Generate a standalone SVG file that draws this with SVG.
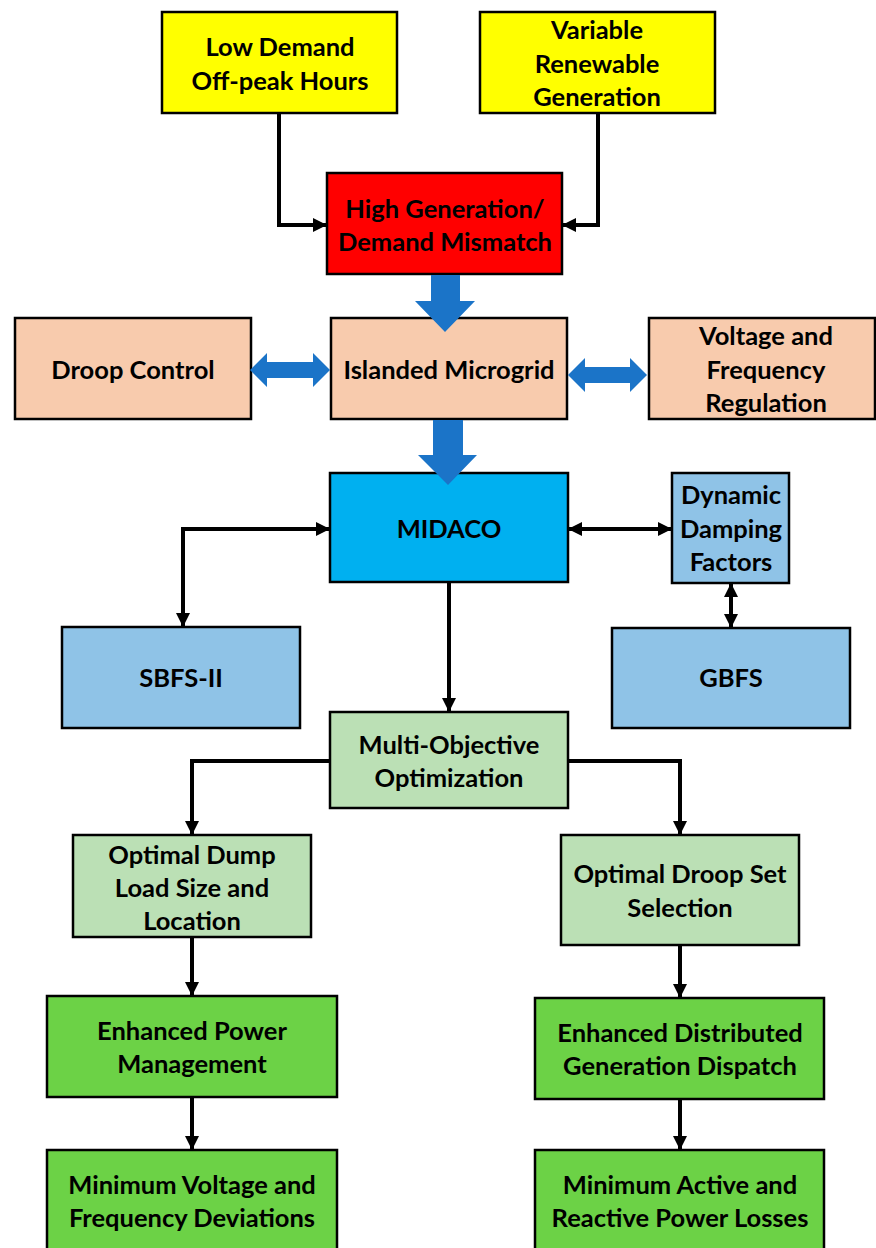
<svg xmlns="http://www.w3.org/2000/svg" width="876" height="1248" viewBox="0 0 876 1248">
  <style>
    .box { stroke: #000; stroke-width: 2.5; }
    .yellow { fill: #FFFF00; }
    .red { fill: #FF0000; }
    .peach { fill: #F8CBAD; }
    .cyan { fill: #00B0F0; }
    .sky { fill: #8FC3E7; }
    .mint { fill: #BBE0B5; }
    .green { fill: #6CD246; }
    text { font-family: Lato, "Liberation Sans", sans-serif; font-weight: bold; font-size: 25.5px; fill: #000; text-anchor: middle; }
    .wire { fill: none; stroke: #000; stroke-width: 4; }
    .block { fill: #1B74C8; }
  </style>
  <defs>
    <marker id="arr" viewBox="0 0 14 14" refX="13" refY="7" markerWidth="14" markerHeight="14" markerUnits="userSpaceOnUse" orient="auto-start-reverse">
      <path d="M0,0 L14,7 L0,14 z" fill="#000"/>
    </marker>
  </defs>
  <rect width="876" height="1248" fill="#fff"/>

  <g id="low-demand">
    <rect class="box yellow" x="162" y="12" width="235" height="101"/>
    <text x="280" y="56">Low Demand</text>
    <text x="280" y="90">Off-peak Hours</text>
  </g>
  <g id="variable-renewable">
    <rect class="box yellow" x="480" y="12" width="235" height="101"/>
    <text x="597" y="39">Variable</text>
    <text x="597" y="73">Renewable</text>
    <text x="597" y="106">Generation</text>
  </g>
  <g id="mismatch">
    <rect class="box red" x="327" y="173" width="235" height="101"/>
    <text x="445" y="218">High Generation/</text>
    <text x="445" y="251">Demand Mismatch</text>
  </g>
  <g id="droop-control">
    <rect class="box peach" x="15" y="318" width="236" height="101"/>
    <text x="133" y="379">Droop Control</text>
  </g>
  <g id="islanded-microgrid">
    <rect class="box peach" x="331" y="318" width="236" height="101"/>
    <text x="449" y="379">Islanded Microgrid</text>
  </g>
  <g id="voltage-frequency">
    <rect class="box peach" x="649" y="318" width="226" height="101"/>
    <text x="766" y="345">Voltage and</text>
    <text x="766" y="379">Frequency</text>
    <text x="766" y="412">Regulation</text>
  </g>
  <g id="midaco">
    <rect class="box cyan" x="330" y="473" width="238" height="109"/>
    <text x="449" y="538">MIDACO</text>
  </g>
  <g id="damping-factors">
    <rect class="box sky" x="672" y="473" width="117" height="110"/>
    <text x="731" y="504">Dynamic</text>
    <text x="731" y="538">Damping</text>
    <text x="731" y="571">Factors</text>
  </g>
  <g id="sbfs">
    <rect class="box sky" x="62" y="627" width="238" height="101"/>
    <text x="181" y="687">SBFS-II</text>
  </g>
  <g id="gbfs">
    <rect class="box sky" x="612" y="628" width="238" height="100"/>
    <text x="731" y="687">GBFS</text>
  </g>
  <g id="multi-objective">
    <rect class="box mint" x="330" y="712" width="238" height="96"/>
    <text x="449" y="754">Multi-Objective</text>
    <text x="449" y="787">Optimization</text>
  </g>
  <g id="dump-load">
    <rect class="box mint" x="73" y="835" width="238" height="102"/>
    <text x="192" y="864">Optimal Dump</text>
    <text x="192" y="897">Load Size and</text>
    <text x="192" y="930">Location</text>
  </g>
  <g id="droop-set">
    <rect class="box mint" x="561" y="835" width="238" height="110"/>
    <text x="680" y="883">Optimal Droop Set</text>
    <text x="680" y="917">Selection</text>
  </g>
  <g id="power-management">
    <rect class="box green" x="47" y="996" width="290" height="101"/>
    <text x="192" y="1040">Enhanced Power</text>
    <text x="192" y="1073">Management</text>
  </g>
  <g id="dg-dispatch">
    <rect class="box green" x="535" y="998" width="289" height="101"/>
    <text x="680" y="1042">Enhanced Distributed</text>
    <text x="680" y="1075">Generation Dispatch</text>
  </g>
  <g id="min-deviations">
    <rect class="box green" x="47" y="1150" width="290" height="110"/>
    <text x="192" y="1194">Minimum Voltage and</text>
    <text x="192" y="1227">Frequency Deviations</text>
  </g>
  <g id="min-losses">
    <rect class="box green" x="535" y="1150" width="289" height="110"/>
    <text x="680" y="1194">Minimum Active and</text>
    <text x="680" y="1227">Reactive Power Losses</text>
  </g>

  <g id="connectors">
    <path class="wire" d="M279,113 V225 H326" marker-end="url(#arr)"/>
    <path class="wire" d="M598,113 V225 H563" marker-end="url(#arr)"/>
    <path class="wire" d="M329,529 H183 V626" marker-start="url(#arr)" marker-end="url(#arr)"/>
    <path class="wire" d="M569,529 H671" marker-start="url(#arr)" marker-end="url(#arr)"/>
    <path class="wire" d="M731,584 V627" marker-start="url(#arr)" marker-end="url(#arr)"/>
    <path class="wire" d="M449,583 V711" marker-end="url(#arr)"/>
    <path class="wire" d="M330,761 H192 V834" marker-end="url(#arr)"/>
    <path class="wire" d="M568,761 H680 V834" marker-end="url(#arr)"/>
    <path class="wire" d="M192,938 V995" marker-end="url(#arr)"/>
    <path class="wire" d="M680,946 V997" marker-end="url(#arr)"/>
    <path class="wire" d="M192,1098 V1149" marker-end="url(#arr)"/>
    <path class="wire" d="M680,1100 V1149" marker-end="url(#arr)"/>
    <polygon class="block" points="431,275 460,275 460,301 475,301 445,332 415,301 431,301"/>
    <polygon class="block" points="433,420 463,420 463,455 477,455 448,485 418,455 433,455"/>
    <polygon class="block" points="250,370 267,353 267,362 313,362 313,353 330,370 313,387 313,378 267,378 267,387"/>
    <polygon class="block" points="568,375 585,358 585,367 630,367 630,358 647,375 630,392 630,383 585,383 585,392"/>
  </g>
</svg>
